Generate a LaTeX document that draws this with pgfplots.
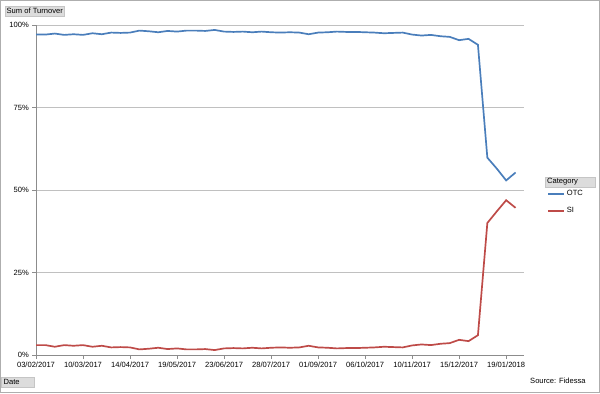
\documentclass[border=0pt]{standalone}
\usepackage{pgfplots}
\pgfplotsset{compat=1.18}
\usepackage{fontspec}
\setmainfont{Liberation Sans}
\definecolor{otc}{HTML}{4A7EBB}
\definecolor{si}{HTML}{BE4B48}
\definecolor{gridc}{HTML}{C0C0C0}
\definecolor{axc}{HTML}{8C8C8C}
\definecolor{btn}{HTML}{DCDCDC}
\pgfplotstableread{
w otc si
0 97.1 3.0
1 97.1 3.0
2 97.4 2.5
3 97.0 3.0
4 97.2 2.8
5 97.0 3.0
6 97.5 2.5
7 97.2 2.8
8 97.7 2.3
9 97.6 2.4
10 97.7 2.3
11 98.3 1.7
12 98.1 1.9
13 97.8 2.2
14 98.2 1.8
15 98.0 2.0
16 98.3 1.7
17 98.3 1.7
18 98.2 1.8
19 98.5 1.5
20 98.0 2.0
21 97.9 2.1
22 98.0 2.0
23 97.8 2.2
24 98.0 2.0
25 97.8 2.2
26 97.7 2.3
27 97.8 2.2
28 97.7 2.3
29 97.2 2.8
30 97.7 2.3
31 97.8 2.2
32 98.0 2.0
33 97.9 2.1
34 97.9 2.1
35 97.8 2.2
36 97.7 2.3
37 97.5 2.5
38 97.6 2.4
39 97.7 2.3
40 97.1 2.9
41 96.8 3.2
42 97.0 3.0
43 96.6 3.4
44 96.4 3.6
45 95.4 4.6
46 95.8 4.2
47 94.0 6.0
48 59.8 40.0
49 56.5 43.5
50 52.9 46.9
51 55.3 44.6
}\data
\begin{document}
\begin{tikzpicture}[x=1bp,y=1bp,font=\fontsize{7.6}{9}\selectfont]
\useasboundingbox (0,0) rectangle (600,393);
\draw[axc!70] (0.5,0.5) rectangle (599.5,392.5);
\begin{axis}[
  at={(36bp,38bp)}, anchor=south west,
  scale only axis, width=488bp, height=330bp,
  xmin=0, xmax=51.9, ymin=0, ymax=100,
  axis x line*=bottom, axis y line*=left,
  axis line style={axc},
  xtick={0,5,...,50},
  xticklabels={03/02/2017,10/03/2017,14/04/2017,19/05/2017,23/06/2017,28/07/2017,01/09/2017,06/10/2017,10/11/2017,15/12/2017,19/01/2018},
  ytick={0,25,50,75,100},
  yticklabels={0\%,25\%,50\%,75\%,100\%},
  tick align=outside, major tick length=4bp,
  tick style={axc},
  ymajorgrids, grid style={gridc, line width=0.8pt},
  ticklabel style={font=\fontsize{7.6}{9}\selectfont},
  xticklabel style={inner sep=2bp, yshift=-1bp},
  yticklabel style={inner sep=3bp},
  legend style={at={(1.047,0.505)}, anchor=north west, draw=none, fill=none,
    font=\fontsize{7.6}{9}\selectfont, row sep=6bp, inner sep=0pt},
  legend cell align=left,
  legend image code/.code={\draw[#1] (0bp,0bp) -- (16bp,0bp);},
  legend image post style={line width=1.8pt},
  clip=false,
]
\addplot[otc, line width=1.7pt] table[x=w, y=otc] {\data};
\addlegendentry{OTC}
\addplot[si, line width=1.7pt] table[x=w, y=si] {\data};
\addlegendentry{SI}
\end{axis}
% buttons / annotations
\node[fill=btn, draw=axc!50, inner sep=1.5bp, anchor=north west, minimum height=10bp] at (5,387) {Sum of Turnover};
\node[fill=btn, draw=axc!50, inner sep=1.5bp, anchor=north west, minimum height=10bp, minimum width=33bp, text width=28bp] at (1,16) {Date};
\node[fill=btn, draw=axc!50, inner sep=1.5bp, anchor=north west, minimum height=9bp, minimum width=50bp, text width=46bp] at (545,216) {Category};
\node[anchor=west, inner sep=0pt] at (530,12) {Source: Fidessa};
\end{tikzpicture}
\end{document}
